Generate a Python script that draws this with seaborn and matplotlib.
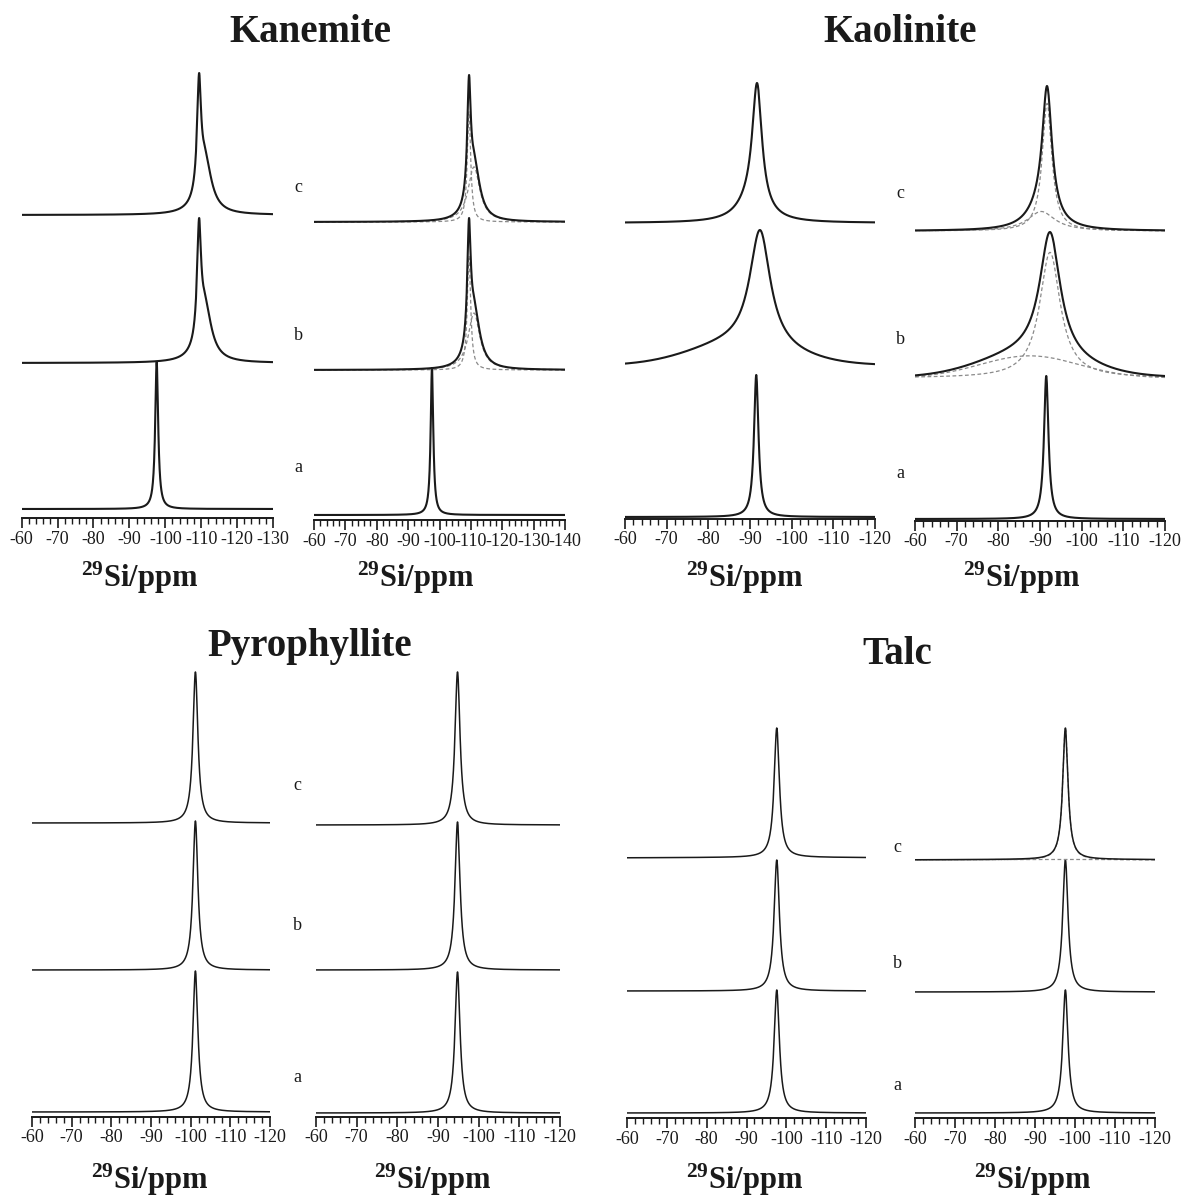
import numpy as np
import pandas as pd
import matplotlib
matplotlib.use("Agg")
import matplotlib.pyplot as plt
import seaborn as sns
from matplotlib.ticker import MultipleLocator, FormatStrFormatter

sns.set_theme(style="white")
plt.rcParams['font.family'] = ['Liberation Serif', 'DejaVu Serif']
plt.rcParams['mathtext.default'] = 'regular'
plt.rcParams['axes.unicode_minus'] = False

# ---------------- data (peak parameters) ----------------
minerals = ["Kanemite", "Kaolinite", "Pyrophyllite", "Talc"]
trace_labels = ["a", "b", "c"]

# each trace: list of components (centre ppm, FWHM ppm, relative height, shape)
kanemite_centers = [[-97.6], [-109.4, -111.0], [-109.4, -111.0]]
kanemite_fwhm = [[1.0], [1.3, 4.5], [1.3, 4.5]]
kanemite_height = [[1.0], [0.72, 0.36], [0.72, 0.36]]
kanemite_shape = [["L"], ["L", "L"], ["L", "L"]]

kaolinite_centers = [[-91.5], [-92.4, -87.5], [-91.7, -90.3]]
kaolinite_fwhm = [[1.3], [6.0, 28.0], [2.8, 8.0]]
kaolinite_height = [[1.0], [0.85, 0.15], [0.85, 0.13]]
kaolinite_shape = [["L"], ["L", "G"], ["L", "L"]]

# experimental (left) pyrophyllite spectra sit further right on their scale
pyrophyllite_exp_centers = [[-101.2], [-101.2], [-101.2]]
pyrophyllite_centers = [[-94.8], [-94.8], [-94.8]]
pyrophyllite_fwhm = [[1.5], [1.5], [1.5]]
pyrophyllite_height = [[1.0], [1.0], [1.0]]
pyrophyllite_shape = [["L"], ["L"], ["L"]]

talc_centers = [[-97.6], [-97.6], [-97.6, -97.6]]
talc_fwhm = [[1.6], [1.6], [1.6, 60.0]]
talc_height = [[1.0], [1.0], [1.0, 0.004]]
talc_shape = [["L"], ["L"], ["L", "G"]]

x_ranges = {"Kanemite": [(-60, -130), (-60, -140)],
            "Kaolinite": [(-60, -120), (-60, -120)],
            "Pyrophyllite": [(-60, -120), (-60, -120)],
            "Talc": [(-60, -120), (-60, -120)]}

params = {
    ("Kanemite", 0): (kanemite_centers, kanemite_fwhm, kanemite_height, kanemite_shape),
    ("Kanemite", 1): (kanemite_centers, kanemite_fwhm, kanemite_height, kanemite_shape),
    ("Kaolinite", 0): (kaolinite_centers, kaolinite_fwhm, kaolinite_height, kaolinite_shape),
    ("Kaolinite", 1): (kaolinite_centers, kaolinite_fwhm, kaolinite_height, kaolinite_shape),
    ("Pyrophyllite", 0): (pyrophyllite_exp_centers, pyrophyllite_fwhm, pyrophyllite_height, pyrophyllite_shape),
    ("Pyrophyllite", 1): (pyrophyllite_centers, pyrophyllite_fwhm, pyrophyllite_height, pyrophyllite_shape),
    ("Talc", 0): (talc_centers, talc_fwhm, talc_height, talc_shape),
    ("Talc", 1): (talc_centers, talc_fwhm, talc_height, talc_shape),
}

# ---------------- layout (pixels) ----------------
W, H = 1184, 1199
fig = plt.figure(figsize=(W / 100, H / 100), dpi=100)
fig.patch.set_facecolor("white")

# per panel: x of first tick, x of last tick, axis y, baselines [a,b,c], tops [a,b,c], lw
layout = {
    ("Kanemite", 0): (21.7, 273, 518, [509, 363, 215], [362, 218, 73], 1.5),
    ("Kanemite", 1): (314, 565, 520, [515, 370, 222], [368, 218, 75], 1.5),
    ("Kaolinite", 0): (625, 875, 519, [517, 366, 223], [375, 230, 83], 1.5),
    ("Kaolinite", 1): (915, 1165, 521, [519, 378, 231], [376, 232, 86], 1.5),
    ("Pyrophyllite", 0): (32, 270, 1117, [1112, 970, 823], [971, 821, 672], 1.1),
    ("Pyrophyllite", 1): (316, 560, 1117, [1113, 970, 825], [972, 822, 672], 1.1),
    ("Talc", 0): (627, 866, 1118, [1113, 991, 858], [990, 860, 728], 1.1),
    ("Talc", 1): (915, 1155, 1118, [1113, 992, 860], [990, 860, 728], 1.1),
}
titles_pos = {"Kanemite": (310, 33), "Kaolinite": (900, 33),
              "Pyrophyllite": (310, 646), "Talc": (897, 655)}
abc_pos = {"Kanemite": (298, [467, 335, 188]), "Kaolinite": (900, [473, 340, 193]),
           "Pyrophyllite": (297, [1077, 925, 785]), "Talc": (897, [1085, 963, 848])}
xlabel_pos = {("Kanemite", 0): (140, 578), ("Kanemite", 1): (416, 578),
              ("Kaolinite", 0): (745, 578), ("Kaolinite", 1): (1022, 578),
              ("Pyrophyllite", 0): (150, 1180), ("Pyrophyllite", 1): (433, 1180),
              ("Talc", 0): (745, 1180), ("Talc", 1): (1033, 1180)}


def component(ppm, c, w, h, shape):
    if shape == "L":
        return h / (1.0 + ((ppm - c) / (w / 2.0)) ** 2)
    s = w / 2.3548
    return h * np.exp(-0.5 * ((ppm - c) / s) ** 2)


for m in minerals:
    for side in (0, 1):
        cen, fw, ht, sh = params[(m, side)]
        x0, x1, ay, bases, tops, lw = layout[(m, side)]
        lim0, lim1 = x_ranges[m][side]
        top_px = 55
        ax = fig.add_axes([x0 / W, 1 - ay / H, (x1 - x0) / W, (ay - top_px) / H])
        ax.set_facecolor("none")
        ppm = np.linspace(lim0, lim1, 3000)
        for i in range(3):
            comps = [component(ppm, c, w, h, s) for c, w, h, s in zip(cen[i], fw[i], ht[i], sh[i])]
            total = np.sum(comps, axis=0)
            norm = total.max()
            base = ay - bases[i]
            amp = bases[i] - tops[i]
            if side == 1 and len(comps) > 1:
                for comp in comps:
                    d = pd.DataFrame({"ppm": ppm, "y": base + amp * comp / norm})
                    sns.lineplot(data=d, x="ppm", y="y", ax=ax, color="#8a8a8a",
                                 lw=0.9, linestyle=(0, (3, 2)), estimator=None,
                                 errorbar=None)
            d = pd.DataFrame({"ppm": ppm, "y": base + amp * total / norm})
            sns.lineplot(data=d, x="ppm", y="y", ax=ax, color="#1a1a1a", lw=lw,
                         estimator=None, errorbar=None)
        ax.set_xlim(lim0, lim1)
        ax.set_ylim(0, ay - top_px)
        ax.set_xlabel("")
        ax.set_ylabel("")
        ax.set_yticks([])
        sns.despine(ax=ax, left=True, top=True, right=True)
        ax.spines["bottom"].set_linewidth(1.4)
        ax.spines["bottom"].set_color("#1a1a1a")
        ax.xaxis.set_major_locator(MultipleLocator(10))
        ax.xaxis.set_minor_locator(MultipleLocator(2))
        ax.xaxis.set_major_formatter(FormatStrFormatter("%d"))
        ax.tick_params(axis="x", which="major", bottom=True, direction="out",
                       length=7, width=1.2, color="#1a1a1a", labelsize=13,
                       pad=2, labelcolor="#1a1a1a")
        ax.tick_params(axis="x", which="minor", bottom=True, direction="out",
                       length=4, width=1.0, color="#1a1a1a")
        lx, ly = xlabel_pos[(m, side)]
        fig.text(lx / W, 1 - ly / H, "$^{29}$Si/ppm", ha="center", va="center",
                 fontsize=22, fontweight="bold", color="#1a1a1a")
    tx, ty = titles_pos[m]
    fig.text(tx / W, 1 - ty / H, m, ha="center", va="center", fontsize=28,
             fontweight="bold", color="#1a1a1a")
    ax_x, ys = abc_pos[m]
    for lab, yy in zip(trace_labels, ys):
        fig.text(ax_x / W, 1 - yy / H, lab, ha="center", va="center",
                 fontsize=13, color="#1a1a1a")

fig.savefig("out.png", dpi=100, facecolor="white")
